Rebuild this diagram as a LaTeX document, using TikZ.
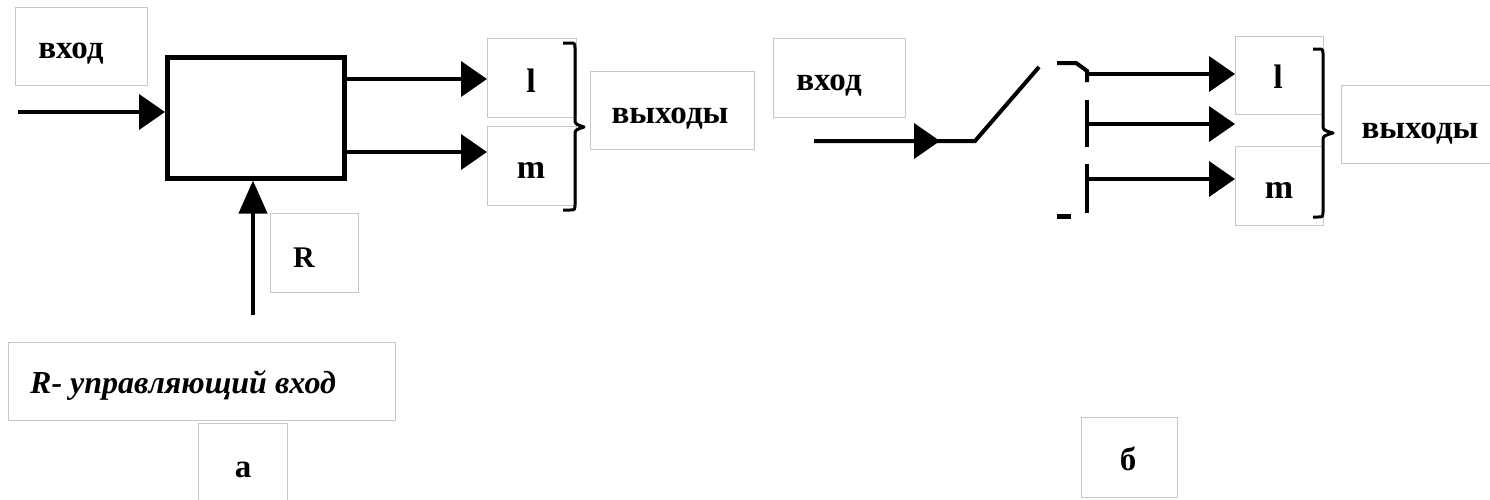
\documentclass[tikz,border=0pt]{standalone}
\usepackage{fontspec}
\setmainfont{Liberation Serif}
\usetikzlibrary{arrows.meta}
% framed label box: name, left, top, width, height
\newcommand\lblbox[5]{\node[frame, anchor=north west, minimum width=#4pt, minimum height=#5pt] (#1) at (#2,#3) {};}
\begin{document}
\begin{tikzpicture}[x=1pt,y=-1pt,
  frame/.style={draw=black!22, line width=1.2pt, fill=white, inner sep=0pt},
  word/.style={font=\fontsize{33}{38}\selectfont\bfseries, inner sep=0pt, anchor=base},
  latin/.style={word, font=\fontsize{34}{40}\selectfont\bfseries},
  wire/.style={line width=4pt},
  arr/.style={wire, -{Triangle[length=26pt,width=35pt]}},
  uparr/.style={wire, -{Triangle[length=33pt,width=28pt]}},
  bracket/.style={line width=3pt, line join=round},
]
\useasboundingbox (0,0) rectangle (1490,499);

% ---------- (a) block with control input ----------
\lblbox{inBox}{15}{7}{132}{78}
\node[word] (inTxt) at (71,58) {вход};

\node[draw, line width=4.5pt, anchor=north west, minimum width=177pt, minimum height=121pt, inner sep=0pt] (mainBox) at (165,55) {};

\lblbox{lBox}{487}{38}{89}{79}
\node[latin] (lTxt) at (531,92) {l};
\lblbox{mBox}{487}{126}{89}{79}
\node[latin] (mTxt) at (531,178) {m};
\lblbox{outBox}{590}{71}{164}{78}
\node[word] (outTxt) at (670,123) {выходы};

\lblbox{rBox}{270}{213}{88}{79}
\node[latin, font=\fontsize{30}{36}\selectfont\bfseries] (rTxt) at (304,267) {R};

\lblbox{ctrlBox}{8}{342}{387}{78}
\node[word, anchor=base west, font=\fontsize{32}{38}\selectfont\bfseries\itshape] (ctrlTxt) at (30,393) {R- управляющий вход};

\lblbox{aBox}{198}{423}{89}{85}
\node[word] (aTxt) at (243,477) {а};

\coordinate (inStart) at (18,112);
\draw[arr] (inStart) -- (inStart -| mainBox.west);
\coordinate (outL) at (487,79);
\coordinate (outM) at (487,152);
\draw[arr] (outL -| mainBox.east) -- (outL);
\draw[arr] (outM -| mainBox.east) -- (outM);
\coordinate (rStart) at (253,315);
\draw[uparr] (rStart) -- (rStart |- mainBox.south);

% brace grouping the outputs
\draw[bracket] (563,43) -- (570,43) .. controls (575,43) .. (575,50) -- (575,119)
  .. controls (575,124) .. (584,127) .. controls (575,130) .. (575,135) -- (575,203)
  .. controls (575,210) .. (570,210) -- (563,210);

% ---------- (b) switch ----------
\lblbox{in2Box}{773}{38}{132}{79}
\node[word] (in2Txt) at (829,90) {вход};

\coordinate (in2Start) at (814,141);
\coordinate (swTip) at (940,141);
\coordinate (swPivot) at (975,141);
\coordinate (swEnd) at (1039,67);
\draw[wire] (in2Start) -- (swPivot) -- (swEnd);
\draw[arr] (in2Start) -- (swTip);

% contacts
\coordinate (c1) at (1087,74);
\coordinate (c2) at (1087,124);
\coordinate (c3) at (1087,179);
\draw[wire] (1057,63) -- (1076,63) -- (1083,68) -- (1087,71) -- (1087,82);
\draw[wire] (1087,100) -- (1087,147);
\draw[wire] (1087,164) -- (1087,213);
\draw[line width=5pt] (1057,216) -- (1071,216);

\lblbox{l2Box}{1235}{36}{88}{78}
\node[latin] (l2Txt) at (1278,88) {l};
\lblbox{m2Box}{1235}{146}{88}{79}
\node[latin] (m2Txt) at (1279,198) {m};
\lblbox{out2Box}{1341}{85}{160}{78}
\node[word] (out2Txt) at (1420,138) {выходы};

\draw[arr] (c1) -- (c1 -| l2Box.west);
\draw[arr] (c2) -- (c2 -| l2Box.west);
\draw[arr] (c3) -- (c3 -| m2Box.west);

\draw[bracket] (1313,49) -- (1318,49) .. controls (1323,49) .. (1323,56) -- (1323,125)
  .. controls (1323,130) .. (1333,133) .. controls (1323,136) .. (1323,141) -- (1323,210)
  .. controls (1323,217) .. (1318,217) -- (1313,217);

\lblbox{bBox}{1081}{417}{96}{80}
\node[word] (bTxt) at (1128,470) {б};
\end{tikzpicture}
\end{document}
